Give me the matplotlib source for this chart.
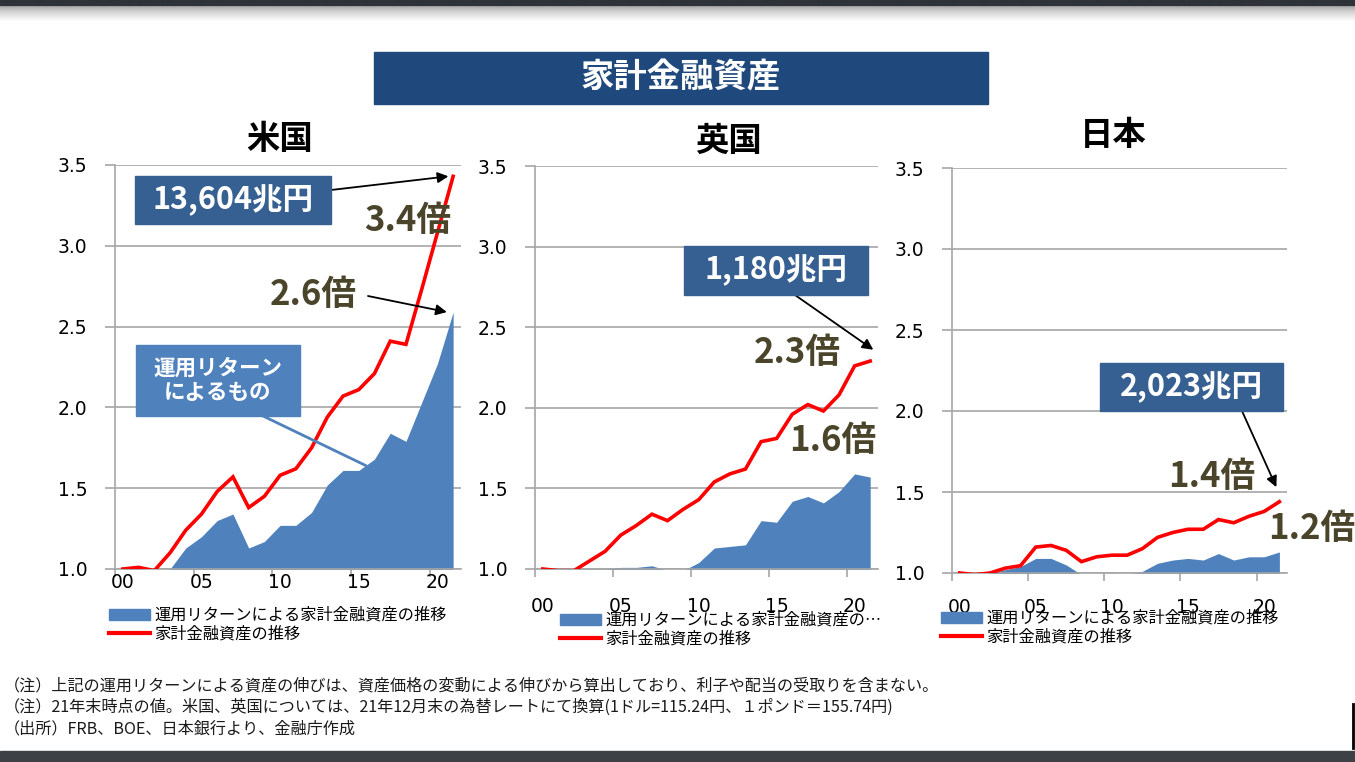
import numpy as np
import matplotlib.pyplot as plt
from matplotlib.patches import Rectangle
from matplotlib.lines import Line2D

plt.rcParams['font.family'] = ['Noto Sans CJK JP', 'DejaVu Sans']

# data: ratio to 2000 (2000 = 1.0), years 2000-2021
years = ['00', '01', '02', '03', '04', '05', '06', '07', '08', '09', '10',
         '11', '12', '13', '14', '15', '16', '17', '18', '19', '20', '21']

us_total = [1.00, 1.01, 0.99, 1.10, 1.24, 1.34, 1.48, 1.57, 1.38, 1.45, 1.58,
            1.62, 1.75, 1.94, 2.07, 2.11, 2.21, 2.41, 2.39, 2.73, 3.08, 3.43]
us_return = [1.00, 1.00, 0.99, 1.00, 1.13, 1.20, 1.30, 1.34, 1.13, 1.17, 1.27,
             1.27, 1.35, 1.52, 1.61, 1.61, 1.68, 1.84, 1.79, 2.03, 2.27, 2.59]

uk_total = [1.00, 0.99, 0.99, 1.05, 1.11, 1.21, 1.27, 1.34, 1.30, 1.37, 1.43,
            1.54, 1.59, 1.62, 1.79, 1.81, 1.96, 2.02, 1.98, 2.08, 2.26, 2.29]
uk_return = [1.00, 1.00, 1.00, 1.00, 1.00, 1.01, 1.01, 1.02, 0.99, 0.99, 1.04,
             1.13, 1.14, 1.15, 1.30, 1.29, 1.42, 1.45, 1.41, 1.48, 1.59, 1.57]

jp_total = [1.00, 0.99, 1.00, 1.03, 1.045, 1.16, 1.17, 1.14, 1.07, 1.10, 1.11,
            1.11, 1.15, 1.22, 1.25, 1.27, 1.27, 1.33, 1.31, 1.35, 1.38, 1.44]
jp_return = [1.00, 0.99, 1.00, 1.02, 1.04, 1.09, 1.09, 1.05, 0.99, 0.99, 1.00,
             0.99, 1.01, 1.06, 1.08, 1.09, 1.08, 1.12, 1.08, 1.10, 1.10, 1.13]

yticks = [1.0, 1.5, 2.0, 2.5, 3.0, 3.5]

W, H = 1355, 762
BLUE = '#4f81bd'
BOXBLUE = '#376092'
OLIVE = '#4a452a'
GRID = '#a6a6a6'

fig = plt.figure(figsize=(W / 100, H / 100), dpi=100)


def fx(x):
    return x / W


def fy(y):
    return 1 - y / H


# top / bottom bands of the slide screenshot
top = np.ones((24, 2, 3))
top[:6] = [0.184, 0.2, 0.216]
for k in range(6, 24):
    top[k] = 0.62 + 0.38 * min(1.0, (k - 6) / 15.0) ** 0.6
bax = fig.add_axes([0, fy(24), 1, 24 / H])
bax.imshow(top, aspect='auto', interpolation='bilinear')
bax.axis('off')
fig.patches.append(Rectangle((0, 0), 1, 11 / H, transform=fig.transFigure,
                             color='#3d4044', zorder=5))
fig.lines.append(Line2D([fx(1353), fx(1353)], [fy(704), fy(748)],
                        transform=fig.transFigure, color='black', lw=2))

# main title banner
fig.patches.append(Rectangle((fx(374), fy(104)), fx(988) - fx(374), 52 / H,
                             transform=fig.transFigure, color='#1f497d'))
fig.text(fx(681), fy(78), '家計金融資産', color='white', fontsize=24,
         fontweight='bold', ha='center', va='center')


def panel(l, r, t, b, total, ret, xpad):
    ax = fig.add_axes([fx(l), fy(b), fx(r) - fx(l), (b - t) / H])
    x = np.arange(len(years))
    ax.fill_between(x, ret, 0.5, color=BLUE, lw=0, zorder=2)
    ax.plot(x, total, color='#ff0000', lw=2.6, zorder=3,
            solid_joinstyle='miter')
    ax.set_xlim(-0.5, len(years) - 0.5)
    ax.set_ylim(1.0, 3.5)
    ax.set_yticks(yticks)
    ax.set_yticklabels(['%.1f' % v for v in yticks], fontsize=13.5,
                       fontfamily='DejaVu Sans')
    ax.yaxis.grid(True, color=GRID, lw=1.2, zorder=0)
    ax.set_axisbelow(True)
    ax.set_xticks([-0.5, 4.5, 9.5, 14.5, 19.5])
    ax.set_xticklabels([])
    ax.set_xticks([0, 5, 10, 15, 20], minor=True)
    ax.set_xticklabels([years[i] for i in [0, 5, 10, 15, 20]], minor=True,
                       fontsize=13.5, fontfamily='DejaVu Sans')
    ax.tick_params(axis='x', which='major', length=6, color=GRID, width=1.2)
    ax.tick_params(axis='x', which='minor', length=0, pad=xpad)
    ax.tick_params(axis='y', length=7, color=GRID, width=1.2, pad=13)
    for s in ['top', 'right']:
        ax.spines[s].set_visible(False)
    for s in ['left', 'bottom']:
        ax.spines[s].set_color(GRID)
        ax.spines[s].set_linewidth(1.2)
    return ax


ax1 = panel(115, 461, 165, 569, us_total, us_return, 3)
ax2 = panel(535, 878, 166, 569, uk_total, uk_return, 20)
ax3 = panel(952, 1287, 168, 573, jp_total, jp_return, 18)

# panel titles
for cx, cy, name in [(280, 140, '米国'), (728, 141, '英国'), (1113, 135, '日本')]:
    fig.text(fx(cx), fy(cy), name, fontsize=24, fontweight='bold',
             ha='center', va='center', color='black')

# legends
legend_labels = [('運用リターンによる家計金融資産の推移', 109, 607),
                 ('運用リターンによる家計金融資産の…', 560, 612),
                 ('運用リターンによる家計金融資産の推移', 941, 610)]
for lab, lx, ly in legend_labels:
    hs = [Rectangle((0, 0), 1, 1, color=BLUE),
          Line2D([], [], color='#ff0000', lw=3)]
    fig.legend(hs, [lab, '家計金融資産の推移'], loc='upper left',
               bbox_to_anchor=(fx(lx), fy(ly)), frameon=False, fontsize=11.7,
               handlelength=2.5, handleheight=0.7, handletextpad=0.3,
               labelspacing=0.1, borderpad=0, borderaxespad=0)


def box(l, r, t, b, txt, color, size):
    fig.patches.append(Rectangle((fx(l), fy(b)), fx(r) - fx(l), (b - t) / H,
                                 transform=fig.transFigure, color=color,
                                 zorder=6))
    fig.text(fx((l + r) / 2), fy((t + b) / 2), txt, color='white',
             fontsize=size, fontweight='bold', ha='center', va='center',
             zorder=7, linespacing=1.2)


def arrow(ax, xy, px, py, color='black', style='-|>', lw=1.3):
    ax.annotate('', xy=xy, xycoords='data', xytext=(fx(px), fy(py)),
                textcoords='figure fraction', annotation_clip=False,
                arrowprops=dict(arrowstyle=style, color=color, lw=lw,
                                shrinkA=0, shrinkB=0, mutation_scale=16),
                zorder=8)


def mult(cx, cy, txt):
    fig.text(fx(cx), fy(cy), txt, color=OLIVE, fontsize=25,
             fontweight='bold', ha='center', va='center', zorder=7)


# US annotations
box(135, 331, 176, 224, '13,604兆円', BOXBLUE, 22)
arrow(ax1, (20.7, us_total[-1]), 331, 190)
mult(408, 221, '3.4倍')
mult(313, 294, '2.6倍')
arrow(ax1, (20.6, us_return[-1]), 368, 296)
box(136, 300, 345, 416, '運用リターン\nによるもの', BLUE, 15.5)
arrow(ax1, (15.45, 1.64), 263, 416, color=BLUE, style='-', lw=2)

# UK annotations
box(684, 868, 246, 295, '1,180兆円', BOXBLUE, 22)
arrow(ax2, (21.2, 2.36), 795, 295)
mult(797, 352, '2.3倍')
mult(833, 441, '1.6倍')

# Japan annotations
box(1100, 1283, 363, 411, '2,023兆円', BOXBLUE, 22)
arrow(ax3, (20.8, 1.53), 1242, 411)
mult(1212, 476, '1.4倍')
mult(1312, 529, '1.2倍')

# notes
notes = ['（注）上記の運用リターンによる資産の伸びは、資産価格の変動による伸びから算出しており、利子や配当の受取りを含まない。',
         '（注）21年末時点の値。米国、英国については、21年12月末の為替レートにて換算(1ドル=115.24円、１ポンド＝155.74円)',
         '（出所）FRB、BOE、日本銀行より、金融庁作成']
for k, note in enumerate(notes):
    fig.text(fx(4), fy(686 + 21.5 * k), note, fontsize=11.6, ha='left',
             va='center', color='#1a1a1a')

plt.savefig('out.png', dpi=100)
